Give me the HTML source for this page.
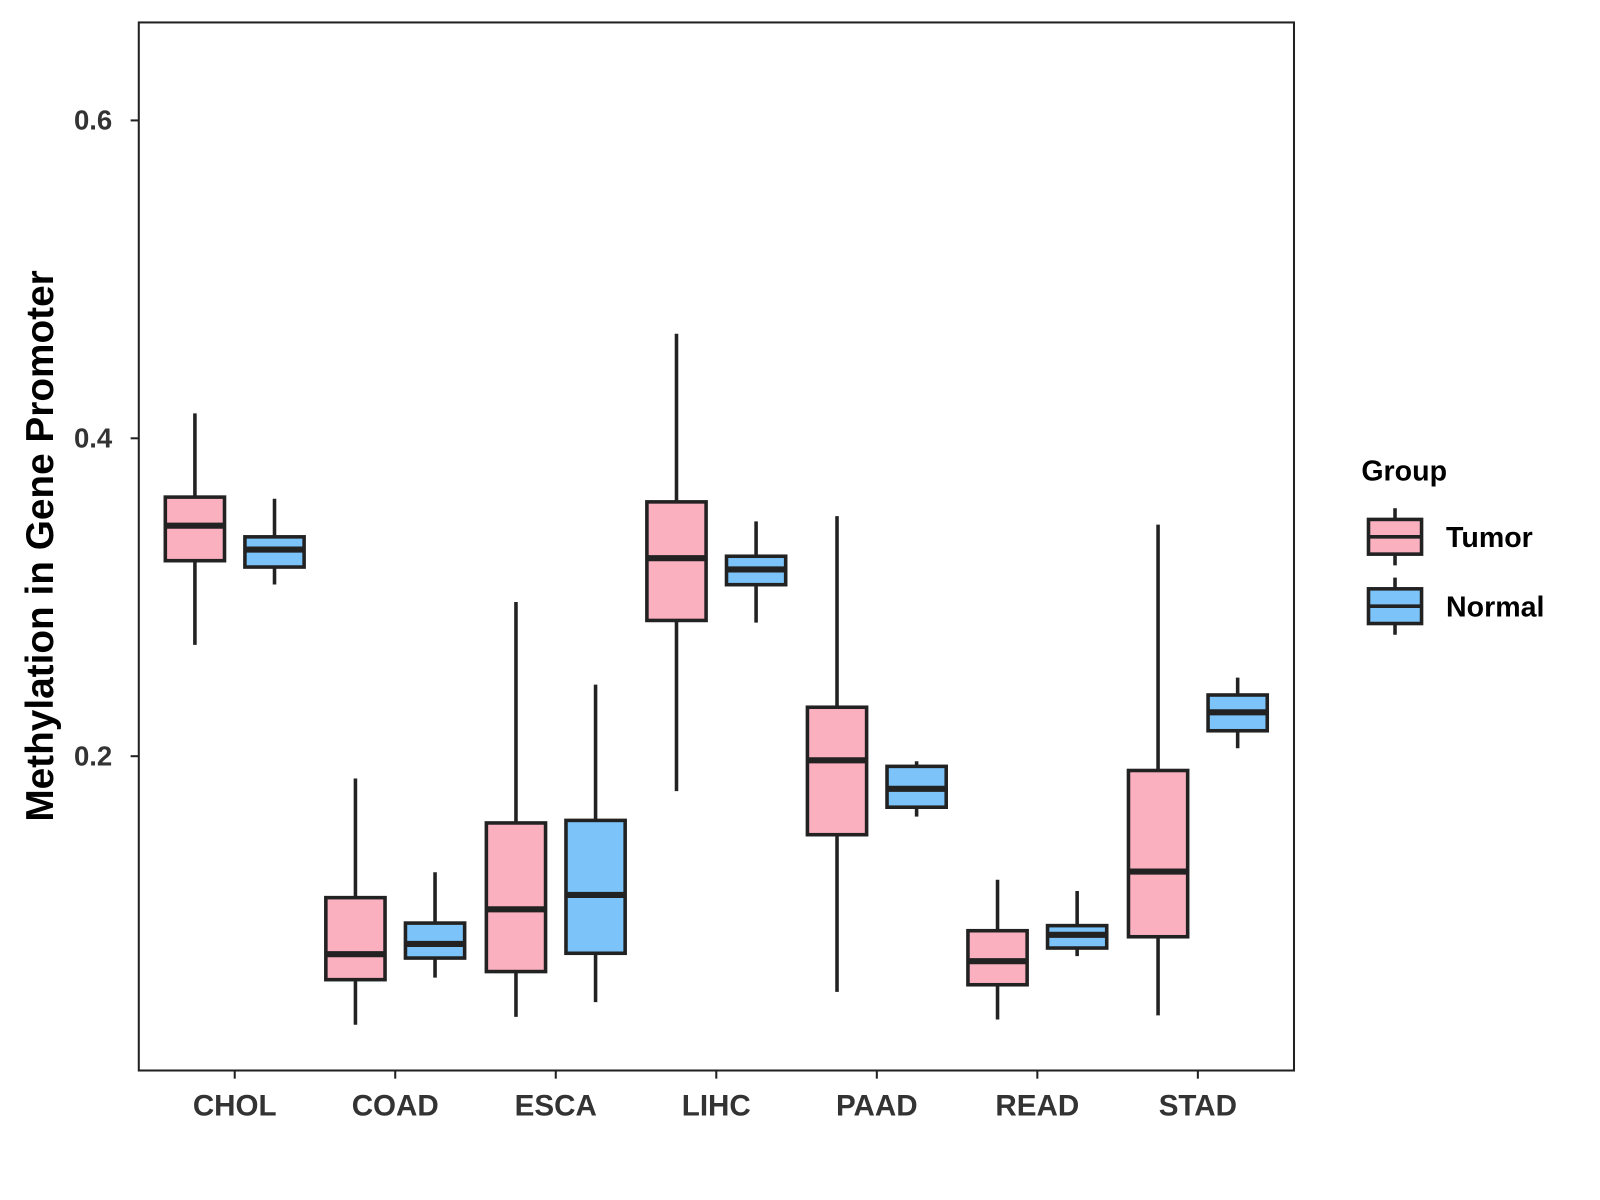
<!DOCTYPE html>
<html><head><meta charset="utf-8"><style>
html,body{margin:0;padding:0;background:#fff;}
svg{display:block;font-family:"Liberation Sans",Arial,sans-serif;}
</style></head><body>
<svg id="chart" width="1600" height="1200" viewBox="0 0 1600 1200">
<g transform="scale(1.0205)">
<rect x="136" y="22" width="1132" height="1027" fill="#fff" stroke="#222" stroke-width="2"/>
<g id="marks"></g>
<g id="axes"></g>
<text x="0" y="0" transform="translate(52,535) rotate(-90)" text-anchor="middle" font-size="38" font-weight="bold" fill="#000">Methylation in Gene Promoter</text>
<g>
<text x="1334" y="471" font-size="28" font-weight="bold" fill="#000">Group</text>
<g>
<line x1="1367" y1="498" x2="1367" y2="554" stroke="#222" stroke-width="3.5"/>
<rect x="1341" y="509" width="52" height="34" fill="#FBB0C0" stroke="#222" stroke-width="3.5"/>
<line x1="1341" y1="526" x2="1393" y2="526" stroke="#222" stroke-width="3.5"/>
<text x="1417" y="536" font-size="28" font-weight="bold" fill="#000">Tumor</text>
</g>
<g>
<line x1="1367" y1="566" x2="1367" y2="622" stroke="#222" stroke-width="3.5"/>
<rect x="1341" y="577" width="52" height="34" fill="#7BC3F8" stroke="#222" stroke-width="3.5"/>
<line x1="1341" y1="594" x2="1393" y2="594" stroke="#222" stroke-width="3.5"/>
<text x="1417" y="604" font-size="28" font-weight="bold" fill="#000">Normal</text>
</g>
</g>
</g>
</svg>
<script>
var categories = ["CHOL","COAD","ESCA","LIHC","PAAD","READ","STAD"];
var tumorLow = [0.270,0.031,0.036,0.178,0.0517,0.0343,0.0369];
var tumorQ1 = [0.323,0.0594,0.0645,0.2854,0.1506,0.0562,0.0864];
var tumorMed = [0.345,0.0754,0.1037,0.3246,0.1974,0.071,0.1274];
var tumorQ3 = [0.363,0.111,0.158,0.360,0.2308,0.0902,0.191];
var tumorHigh = [0.4157,0.186,0.297,0.4658,0.351,0.1223,0.3457];
var normalLow = [0.308,0.0607,0.0453,0.284,0.162,0.0742,0.205];
var normalQ1 = [0.319,0.073,0.076,0.3079,0.1679,0.0793,0.216];
var normalMed = [0.330,0.0819,0.1127,0.3175,0.1795,0.0876,0.2276];
var normalQ3 = [0.338,0.095,0.1596,0.3258,0.1936,0.0934,0.2385];
var normalHigh = [0.362,0.127,0.245,0.3477,0.1968,0.1152,0.2494];
var yTicks = [0.2,0.4,0.6];
var yTickLabels = ["0.2","0.4","0.6"];

var NS = "http://www.w3.org/2000/svg";
function yScale(v){ return 741 - (Number(v) - 0.2) * 1557.5; }
function xScale(i){ return 230 + i * 157.3; }
var marks = document.getElementById('marks');
var axes = document.getElementById('axes');
function el(tag, parent){ var e = document.createElementNS(NS, tag); parent.appendChild(e); return e; }

function drawBox(i, off, fill, sname, lo, q1, md, q3, hi){
  var cx = xScale(i) + off, hw = 29;
  var g = el('g', marks);
  
  
  var w = el('line', g);
  w.setAttribute('x1', cx); w.setAttribute('x2', cx);
  w.setAttribute('y1', yScale(hi)); w.setAttribute('y2', yScale(lo));
  w.setAttribute('stroke', '#222'); w.setAttribute('stroke-width', '3.5');
  var r = el('rect', g);
  r.setAttribute('x', cx - hw); r.setAttribute('width', hw * 2);
  r.setAttribute('y', yScale(q3)); r.setAttribute('height', yScale(q1) - yScale(q3));
  r.setAttribute('fill', fill); r.setAttribute('stroke', '#222'); r.setAttribute('stroke-width', '3.5');
  var m = el('line', g);
  m.setAttribute('x1', cx - hw); m.setAttribute('x2', cx + hw);
  m.setAttribute('y1', yScale(md)); m.setAttribute('y2', yScale(md));
  m.setAttribute('stroke', '#222'); m.setAttribute('stroke-width', '6');
}
for (var i = 0; i < categories.length; i++) {
  drawBox(i, -39, '#FBB0C0', 'tumor', tumorLow[i], tumorQ1[i], tumorMed[i], tumorQ3[i], tumorHigh[i]);
  drawBox(i, 39, '#7BC3F8', 'normal', normalLow[i], normalQ1[i], normalMed[i], normalQ3[i], normalHigh[i]);
}
for (var t = 0; t < yTicks.length; t++) {
  var y = yScale(yTicks[t]);
  var l = el('line', axes);
  l.setAttribute('x1', 128); l.setAttribute('x2', 136); l.setAttribute('y1', y); l.setAttribute('y2', y);
  l.setAttribute('stroke', '#222'); l.setAttribute('stroke-width', '2');
  
  
  var tx = el('text', axes);
  tx.setAttribute('x', 110); tx.setAttribute('y', y + 9);
  tx.setAttribute('text-anchor', 'end'); tx.setAttribute('font-size', '27');
  tx.setAttribute('font-weight', 'bold'); tx.setAttribute('fill', '#333');
  tx.textContent = yTickLabels[t];
  
  
}
for (var c = 0; c < categories.length; c++) {
  var x = xScale(c);
  var l2 = el('line', axes);
  l2.setAttribute('x1', x); l2.setAttribute('x2', x); l2.setAttribute('y1', 1049); l2.setAttribute('y2', 1057);
  l2.setAttribute('stroke', '#222'); l2.setAttribute('stroke-width', '2');
  
  
  var tx2 = el('text', axes);
  tx2.setAttribute('x', x); tx2.setAttribute('y', 1093);
  tx2.setAttribute('text-anchor', 'middle'); tx2.setAttribute('font-size', '29');
  tx2.setAttribute('font-weight', 'bold'); tx2.setAttribute('fill', '#333');
  tx2.textContent = categories[c];
  
  
}
</script>
</body></html>
